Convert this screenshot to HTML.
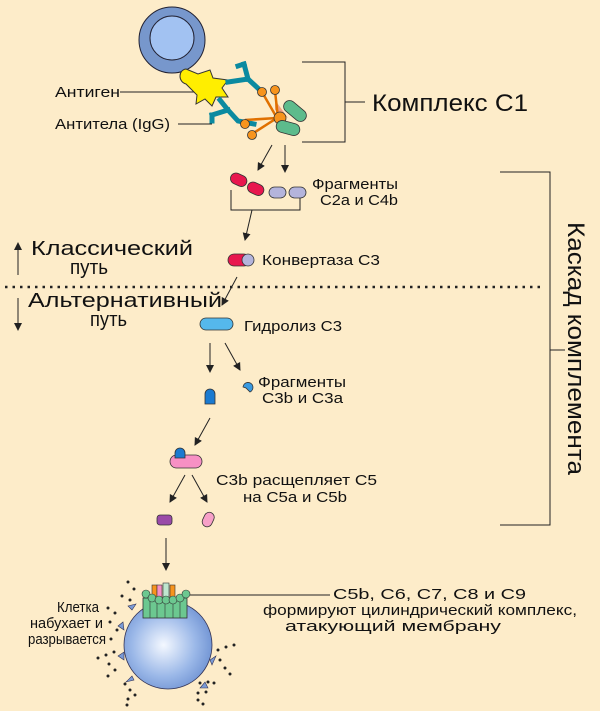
<!DOCTYPE html>
<html><head><meta charset="utf-8"><style>
html,body{margin:0;padding:0;background:#fdecc9;}
svg{display:block;font-family:"Liberation Sans",sans-serif;}
</style></head><body>
<svg width="600" height="711" viewBox="0 0 600 711" xmlns="http://www.w3.org/2000/svg">
<defs>
<marker id="ah" markerWidth="8" markerHeight="8" refX="7" refY="4" orient="auto" markerUnits="userSpaceOnUse"><path d="M0,0 L8,4 L0,8 Z" fill="#222"/></marker>
<radialGradient id="cg" cx="0.45" cy="0.5" r="0.6"><stop offset="0" stop-color="#f4f8ff"/><stop offset="0.6" stop-color="#9bb8e8"/><stop offset="1" stop-color="#6a8ed0"/></radialGradient>
</defs>
<rect width="600" height="711" fill="#fdecc9"/>
<g stroke="#222" stroke-width="1" fill="none">
<line x1="120" y1="92" x2="195" y2="92"/>
<line x1="178" y1="124" x2="212" y2="124"/>
<polyline points="302,62 345,62 345,142 302,142"/>
<line x1="345" y1="102" x2="365" y2="102"/>
<polyline points="231,190 231,210 300,210 300,190"/>
<polyline points="500,172 550,172 550,525 500,525"/>
<line x1="550" y1="350" x2="565" y2="350"/>
<line x1="272" y1="145" x2="258" y2="170" marker-end="url(#ah)"/>
<line x1="285" y1="145" x2="285" y2="172" marker-end="url(#ah)"/>
<line x1="252" y1="210" x2="245" y2="240" marker-end="url(#ah)"/>
<line x1="237" y1="277" x2="222" y2="305" marker-end="url(#ah)"/>
<line x1="210" y1="343" x2="210" y2="372" marker-end="url(#ah)"/>
<line x1="225" y1="343" x2="240" y2="370" marker-end="url(#ah)"/>
<line x1="210" y1="418" x2="195" y2="445" marker-end="url(#ah)"/>
<line x1="185" y1="475" x2="170" y2="502" marker-end="url(#ah)"/>
<line x1="192" y1="475" x2="207" y2="502" marker-end="url(#ah)"/>
<line x1="166" y1="538" x2="166" y2="570" marker-end="url(#ah)"/>
<line x1="18" y1="275" x2="18" y2="243" marker-end="url(#ah)"/>
<line x1="18" y1="298" x2="18" y2="330" marker-end="url(#ah)"/>
<line x1="190" y1="595" x2="330" y2="595"/>
</g>
<line x1="5" y1="287" x2="545" y2="287" stroke="#222" stroke-width="2.5" stroke-dasharray="2.5 5"/>
<circle cx="172" cy="40" r="33" fill="#7797cc" stroke="#223" stroke-width="1"/>
<circle cx="172" cy="38" r="22" fill="#a2c2f2" stroke="#223" stroke-width="1"/>
<path d="M186,69 L198,74 L210,70 L213,78 L228,80 L222,88 L228,97 L216,97 L212,106 L205,99 L196,104 L197,95 L186,84 C178,82 178,70 186,69 Z" fill="#ffee00" stroke="#333" stroke-width="1"/>
<g stroke="#0b8aa0" stroke-width="5" fill="none" stroke-linecap="square">
<polyline points="228,82 248,79 262,92"/><polyline points="248,79 244,64"/><polyline points="244,64 238,66"/>
<polyline points="220,100 228,110 238,121 254,124"/><polyline points="228,110 212,115"/><polyline points="212,115 212,121"/>
</g>
<path d="M275,100 L288,118 L275,110 Z" fill="#f0a080"/>
<g stroke="#e07000" stroke-width="2.5"><line x1="262" y1="92" x2="277" y2="118"/><line x1="275" y1="91" x2="278" y2="118"/><line x1="245" y1="120" x2="277" y2="118"/><line x1="252" y1="134" x2="277" y2="118"/></g>
<g fill="#f7941d" stroke="#333" stroke-width="0.8">
<circle cx="262" cy="92" r="4.5"/><circle cx="275" cy="90" r="4.5"/><circle cx="245" cy="124" r="4.5"/><circle cx="252" cy="135" r="4.5"/><circle cx="280" cy="118" r="6"/>
</g>
<rect x="282" y="105" width="26" height="12" rx="6" fill="#5dbb8c" stroke="#333" stroke-width="0.8" transform="rotate(40 295 111)"/>
<rect x="276" y="122" width="24" height="12" rx="6" fill="#5dbb8c" stroke="#333" stroke-width="0.8" transform="rotate(15 288 128)"/>
<rect x="230" y="174" width="17" height="11" rx="5.5" fill="#e8174e" stroke="#333" stroke-width="0.8" transform="rotate(25 238 180)"/>
<rect x="247" y="183" width="17" height="11" rx="5.5" fill="#e8174e" stroke="#333" stroke-width="0.8" transform="rotate(25 255 189)"/>
<rect x="269" y="187" width="17" height="11" rx="5.5" fill="#b4b4dc" stroke="#333" stroke-width="0.8"/>
<rect x="289" y="187" width="17" height="11" rx="5.5" fill="#b4b4dc" stroke="#333" stroke-width="0.8"/>
<rect x="228" y="254" width="22" height="12" rx="6" fill="#e8174e" stroke="#333" stroke-width="0.8"/>
<circle cx="248" cy="260" r="6" fill="#b4b4dc" stroke="#333" stroke-width="0.8"/>
<rect x="200" y="318" width="33" height="12" rx="6" fill="#55b8ec" stroke="#333" stroke-width="0.8"/>
<path d="M205,404 L205,394 A5,5 0 0 1 215,394 L215,404 Z" fill="#1a7ad0" stroke="#333" stroke-width="0.8"/>
<path d="M243,387 A5,5 0 1 1 250,392 L246,388 Z" fill="#3a9ae0" stroke="#333" stroke-width="0.8"/>
<rect x="170" y="455" width="32" height="13" rx="6.5" fill="#f790c4" stroke="#333" stroke-width="0.8"/>
<path d="M175,458 L175,453 A5,5 0 0 1 185,453 L185,458 Z" fill="#1a7ad0" stroke="#333" stroke-width="0.8"/>
<rect x="157" y="515" width="15" height="10" rx="3" fill="#9a4aa8" stroke="#333" stroke-width="0.8"/>
<rect x="203" y="512" width="10" height="15" rx="5" fill="#f7a0c8" stroke="#333" stroke-width="0.8" transform="rotate(25 208 520)"/>
<!-- target cell -->
<g fill="#7a9ad6" stroke="#335" stroke-width="0.6">
<path d="M132,610 L128,606 L136,604 Z"/><path d="M124,630 L118,626 L123,622 Z"/><path d="M124,660 L118,656 L124,652 Z"/><path d="M132,676 L126,682 L134,680 Z"/><path d="M205,682 L208,688 L200,688 Z"/><path d="M210,660 L216,656 L212,665 Z"/>
</g>
<circle cx="168" cy="645" r="44" fill="url(#cg)" stroke="#335" stroke-width="0.8"/>
<rect x="143" y="598" width="44" height="20" fill="#6cc890" stroke="#333" stroke-width="0.8"/>
<g stroke="#333" stroke-width="0.6"><line x1="150" y1="598" x2="150" y2="618"/><line x1="157" y1="598" x2="157" y2="618"/><line x1="165" y1="598" x2="165" y2="618"/><line x1="173" y1="598" x2="173" y2="618"/><line x1="180" y1="598" x2="180" y2="618"/></g>
<rect x="152" y="585" width="5" height="14" fill="#f7941d" stroke="#333" stroke-width="0.6"/>
<rect x="157" y="585" width="5" height="14" fill="#f790c4" stroke="#333" stroke-width="0.6"/>
<rect x="163" y="583" width="6" height="16" fill="#bfe6cf" stroke="#333" stroke-width="0.6"/>
<rect x="170" y="585" width="5" height="14" fill="#f7941d" stroke="#333" stroke-width="0.6"/>
<g fill="#6cc890" stroke="#333" stroke-width="0.6">
<circle cx="146" cy="594" r="4"/><circle cx="152" cy="598" r="4"/><circle cx="159" cy="600" r="4"/><circle cx="166" cy="600" r="4"/><circle cx="173" cy="600" r="4"/><circle cx="180" cy="598" r="4"/><circle cx="186" cy="594" r="4"/>
</g>
<g fill="#222">
<circle cx="128" cy="582" r="1.5"/><circle cx="134" cy="589" r="1.5"/><circle cx="122" cy="596" r="1.5"/><circle cx="130" cy="600" r="1.5"/><circle cx="108" cy="608" r="1.5"/><circle cx="115" cy="613" r="1.5"/><circle cx="110" cy="622" r="1.5"/><circle cx="117" cy="630" r="1.5"/><circle cx="111" cy="639" r="1.5"/>
<circle cx="98" cy="658" r="1.5"/><circle cx="106" cy="655" r="1.5"/><circle cx="114" cy="652" r="1.5"/><circle cx="109" cy="664" r="1.5"/><circle cx="115" cy="670" r="1.5"/><circle cx="108" cy="676" r="1.5"/>
<circle cx="125" cy="684" r="1.5"/><circle cx="130" cy="690" r="1.5"/><circle cx="128" cy="699" r="1.5"/><circle cx="135" cy="695" r="1.5"/><circle cx="127" cy="705" r="1.5"/>
<circle cx="218" cy="650" r="1.5"/><circle cx="226" cy="647" r="1.5"/><circle cx="234" cy="645" r="1.5"/><circle cx="220" cy="660" r="1.5"/><circle cx="225" cy="668" r="1.5"/><circle cx="230" cy="674" r="1.5"/>
<circle cx="200" cy="683" r="1.5"/><circle cx="208" cy="682" r="1.5"/><circle cx="214" cy="683" r="1.5"/><circle cx="198" cy="693" r="1.5"/><circle cx="206" cy="692" r="1.5"/><circle cx="198" cy="700" r="1.5"/><circle cx="203" cy="704" r="1.5"/>
</g>
<g fill="#111" font-size="15" lengthAdjust="spacingAndGlyphs">
<text x="55" y="97" textLength="65" lengthAdjust="spacingAndGlyphs">Антиген</text>
<text x="55" y="129" textLength="115" lengthAdjust="spacingAndGlyphs">Антитела (IgG)</text>
<text x="312" y="189" textLength="86" lengthAdjust="spacingAndGlyphs">Фрагменты</text>
<text x="320" y="205" textLength="78" lengthAdjust="spacingAndGlyphs">C2a и C4b</text>
<text x="262" y="265" textLength="118" lengthAdjust="spacingAndGlyphs">Конвертаза C3</text>
<text x="244" y="331" textLength="98" lengthAdjust="spacingAndGlyphs">Гидролиз C3</text>
<text x="258" y="387" textLength="88" lengthAdjust="spacingAndGlyphs">Фрагменты</text>
<text x="262" y="403" textLength="81" lengthAdjust="spacingAndGlyphs">C3b и C3a</text>
<text x="216" y="485" textLength="161" lengthAdjust="spacingAndGlyphs">C3b расщепляет C5</text>
<text x="243" y="502" textLength="104" lengthAdjust="spacingAndGlyphs">на C5a и C5b</text>
<text x="333" y="599" textLength="193" lengthAdjust="spacingAndGlyphs">C5b, C6, C7, C8 и C9</text>
<text x="263" y="615" textLength="314" lengthAdjust="spacingAndGlyphs">формируют цилиндрический комплекс,</text>
<text x="285" y="631" textLength="216" lengthAdjust="spacingAndGlyphs">атакующий мембрану</text>
<text x="57" y="612" textLength="42" lengthAdjust="spacingAndGlyphs">Клетка</text>
<text x="30" y="628" textLength="73" lengthAdjust="spacingAndGlyphs">набухает и</text>
<text x="28" y="644" textLength="78" lengthAdjust="spacingAndGlyphs">разрывается</text>
</g>
<g fill="#111" font-size="20">
<text x="31" y="255" textLength="162" lengthAdjust="spacingAndGlyphs">Классический</text>
<text x="70" y="274" textLength="38" lengthAdjust="spacingAndGlyphs">путь</text>
<text x="28" y="307" textLength="194" lengthAdjust="spacingAndGlyphs">Альтернативный</text>
<text x="90" y="326" textLength="37" lengthAdjust="spacingAndGlyphs">путь</text>
</g>
<text x="372" y="111" font-size="24" fill="#111" textLength="156" lengthAdjust="spacingAndGlyphs">Комплекс C1</text>
<text transform="translate(568,222) rotate(90)" font-size="24" fill="#111" textLength="253" lengthAdjust="spacingAndGlyphs">Каскад комплемента</text>
</svg>
</body></html>
